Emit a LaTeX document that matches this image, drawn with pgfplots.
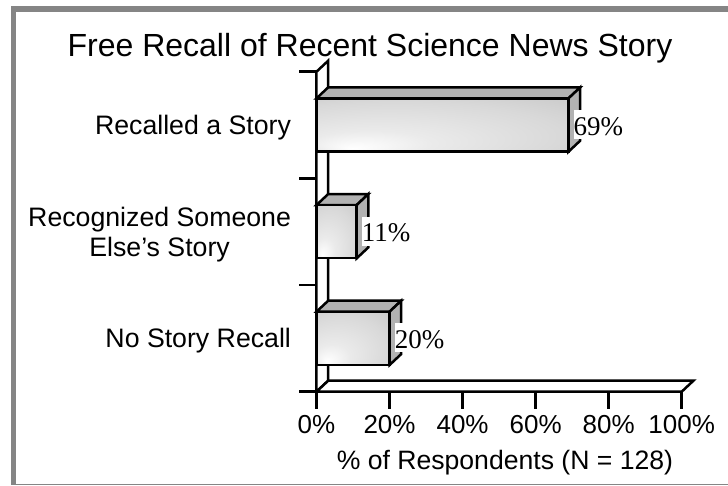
\documentclass[border=0pt]{standalone}
\usepackage{fontspec}
\setmainfont{Liberation Sans}
\newfontfamily\seriffont{Liberation Serif}
\usepackage{pgfplots}
\pgfplotsset{compat=1.18}
\pgfdeclareradialshading{barshade}{\pgfpoint{-18bp}{-22bp}}{color(0bp)=(white); color(12bp)=(white!92!black); color(32bp)=(white!85!black); color(60bp)=(white!72!black)}
\definecolor{facegray}{gray}{0.70}
\definecolor{framegray}{gray}{0.52}
\begin{document}
\begin{tikzpicture}[x=1pt,y=1pt]
\useasboundingbox (0,0) rectangle (728,485);
\fill[framegray] (11,0) rectangle (16,479);
\fill[framegray] (11,473) rectangle (728,479);
\fill[framegray] (11,0) rectangle (728,1);
\begin{axis}[
  at={(316.5pt,93.3pt)}, anchor=south west,
  scale only axis, width=365.2pt, height=320pt,
  xmin=0, xmax=100, ymin=-0.5, ymax=2.5,
  clip=false,
  axis x line*=bottom, axis y line*=left,
  axis line style={-, black, line width=2.5pt},
  tick style={black, line width=2.5pt},
  tick align=outside,
  major tick length=17pt,
  xtick={0,20,40,60,80,100},
  xticklabels={0\%,20\%,40\%,60\%,80\%,100\%},
  ytick={-0.5,0.5,1.5,2.5},
  yticklabels={},
  extra y ticks={0,1,2},
  extra y tick labels={No Story Recall,{Recognized Someone\\Else's Story},Recalled a Story},
  extra y tick style={major tick length=0pt, tick style={draw=none},
     yticklabel style={align=center, xshift=-22pt, yshift=-2.5pt, font=\fontsize{26.7}{30}\selectfont}},
  xticklabel style={font=\fontsize{26}{30}\selectfont, yshift=-3pt},
  /pgf/number format/assume math mode=true,
  title={Free Recall of Recent Science News Story},
  title style={font=\fontsize{32}{38}\selectfont, at={(axis description cs:0.1465,1.028)}, anchor=base},
  xlabel={\% of Respondents (N = 128)},
  xlabel style={font=\fontsize{26.6}{30}\selectfont, at={(axis description cs:0.516,-0.223)}, anchor=center},
  every node near coord/.append style={anchor=west, fill=white, inner sep=0pt, xshift=4pt, yshift=0.5pt,
     font=\seriffont\fontsize{27}{30}\selectfont, text height=25pt, text depth=4pt},
]
% back wall and floor
\addplot[draw=black, line width=2.5pt, fill=white, no markers] coordinates {(0,2.5) (3.2,2.603) (3.2,-0.397) (0,-0.5)} -- cycle;
\addplot[draw=black, line width=2.5pt, fill=white, no markers] coordinates {(0,-0.5) (3.2,-0.397) (103.2,-0.397) (100,-0.5)} -- cycle;
% No Story Recall
\addplot[draw=black, line width=2.5pt, fill=facegray, no markers] coordinates {(0,0.25) (3.2,0.353) (23.2,0.353) (20,0.25)} -- cycle;
\addplot[draw=black, line width=2.5pt, fill=facegray, no markers] coordinates {(20,0.25) (23.2,0.353) (23.2,-0.147) (20,-0.25)} -- cycle;
\addplot[xbar, bar width=53pt, bar shift=0pt, draw=black, line width=2.5pt, shade, shading=barshade,
   nodes near coords={\pgfmathprintnumber{\pgfplotspointmeta}\%}, point meta=x] coordinates {(20,0)};
% Recognized
\addplot[draw=black, line width=2.5pt, fill=facegray, no markers] coordinates {(0,1.25) (3.2,1.353) (14.2,1.353) (11,1.25)} -- cycle;
\addplot[draw=black, line width=2.5pt, fill=facegray, no markers] coordinates {(11,1.25) (14.2,1.353) (14.2,0.853) (11,0.75)} -- cycle;
\addplot[xbar, bar width=53pt, bar shift=0pt, draw=black, line width=2.5pt, shade, shading=barshade,
   nodes near coords={\pgfmathprintnumber{\pgfplotspointmeta}\%}, point meta=x] coordinates {(11,1)};
% Recalled
\addplot[draw=black, line width=2.5pt, fill=facegray, no markers] coordinates {(0,2.25) (3.2,2.353) (72.2,2.353) (69,2.25)} -- cycle;
\addplot[draw=black, line width=2.5pt, fill=facegray, no markers] coordinates {(69,2.25) (72.2,2.353) (72.2,1.853) (69,1.75)} -- cycle;
\addplot[xbar, bar width=53pt, bar shift=0pt, draw=black, line width=2.5pt, shade, shading=barshade,
   nodes near coords={\pgfmathprintnumber{\pgfplotspointmeta}\%}, point meta=x] coordinates {(69,2)};
\end{axis}
\end{tikzpicture}
\end{document}
